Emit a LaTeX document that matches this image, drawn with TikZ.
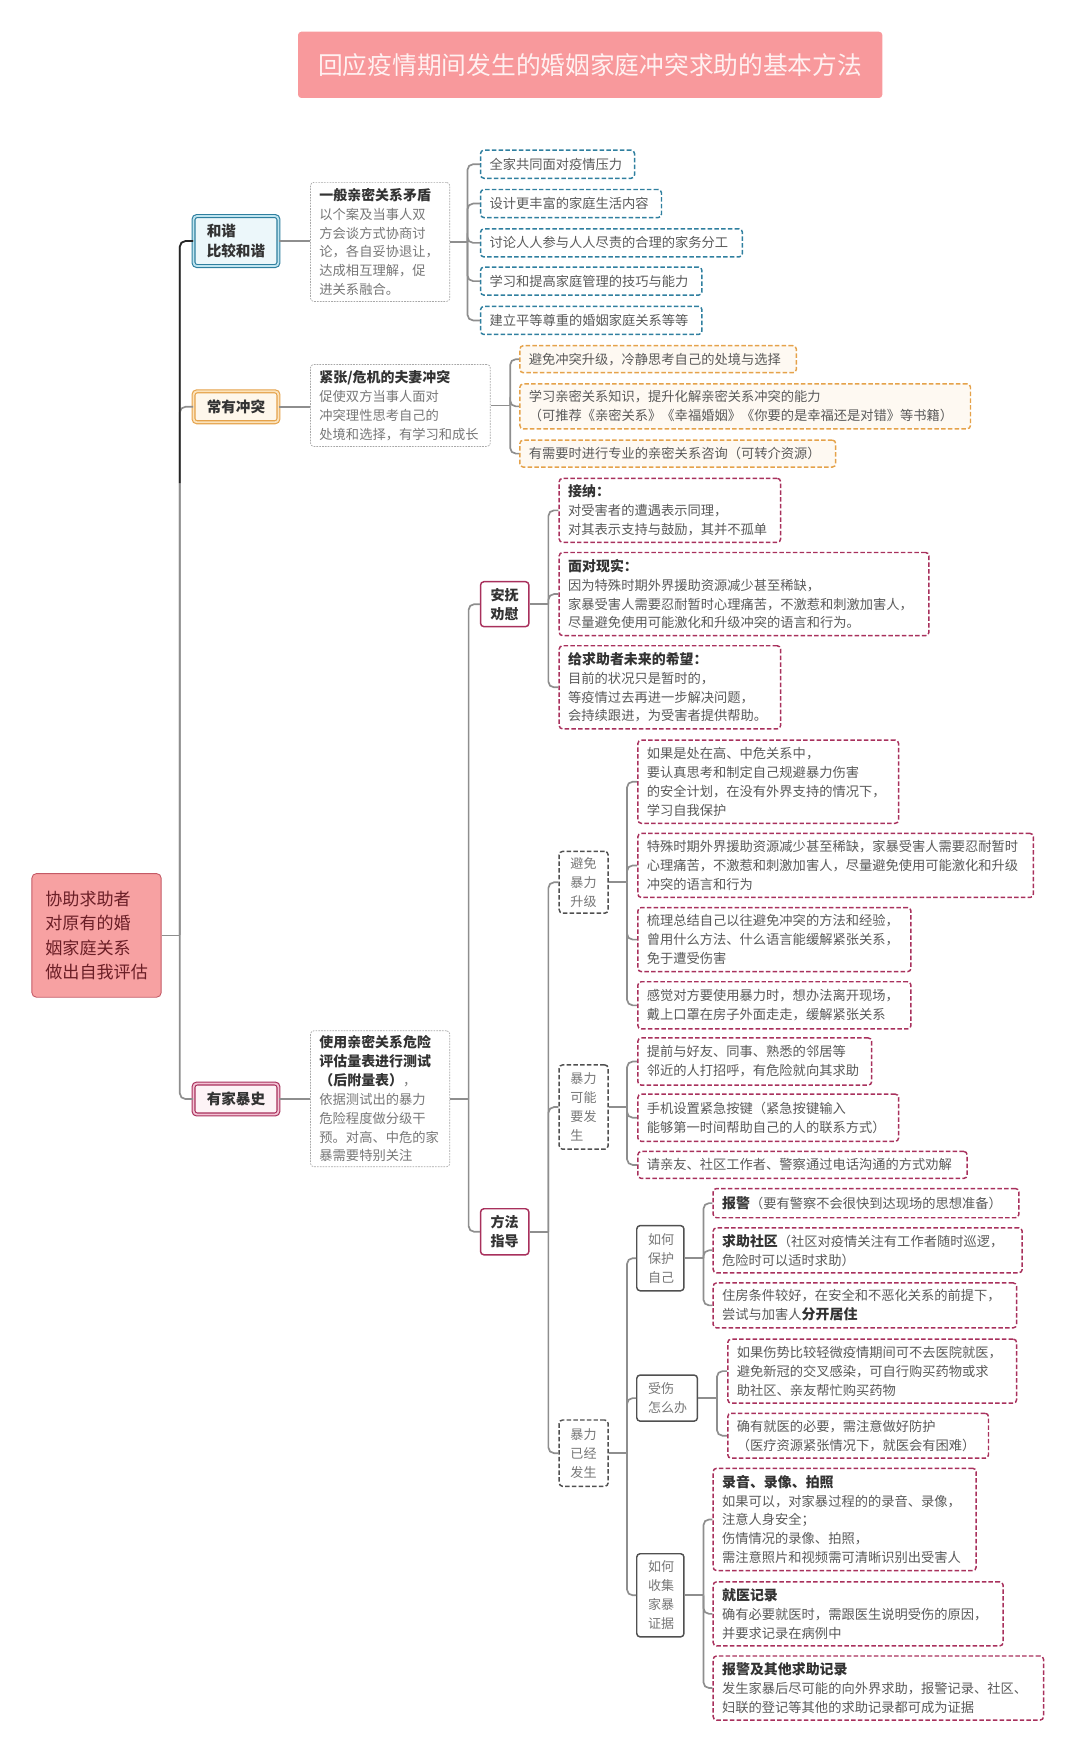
\documentclass[tikz,border=0pt]{standalone}
\usepackage{fontspec}
\setmainfont{Noto Sans CJK SC}

\definecolor{linegray}{HTML}{8E8E8E}
\definecolor{titlepink}{HTML}{F8999C}
\definecolor{titleink}{HTML}{FFF1F1}
\definecolor{rootpink}{HTML}{F7A1A2}
\definecolor{rootedge}{HTML}{C45A66}
\definecolor{rootink}{HTML}{6A1E26}
\definecolor{calmteal}{HTML}{2F7F9F}
\definecolor{calmtealbg}{HTML}{BFE5F0}
\definecolor{clashorange}{HTML}{E5A24A}
\definecolor{clashbg}{HTML}{FBE3BC}
\definecolor{abusered}{HTML}{A8305C}
\definecolor{abusebg}{HTML}{F3C3D4}
\definecolor{inkdark}{HTML}{333333}
\definecolor{inkgray}{HTML}{5A5A5A}
\definecolor{inklight}{HTML}{777777}
\definecolor{noteedge}{HTML}{A8A8A8}
\definecolor{tagedge}{HTML}{505050}

\newcommand{\cardhead}[1]{{\fontsize{12.4}{16.8}\selectfont\bfseries\color{inkdark}#1}}

\tikzset{
  link/.style={draw=linegray, line width=1.5pt},
  elbow/.style={link, rounded corners=5pt},
  card/.style={anchor=north west, rounded corners=3pt, inner xsep=8pt, inner ysep=0pt, align=left,
    text=inkgray, font=\fontsize{11.8}{16.8}\selectfont, line width=1.3pt, dash pattern=on 4pt off 2pt, fill=white},
  tealcard/.style={card, draw=calmteal},
  orangecard/.style={card, draw=clashorange, fill=clashbg!20},
  redcard/.style={card, draw=abusered},
  notecard/.style={card, draw=noteedge, line width=0.6pt, dash pattern=on 1.5pt off 1pt, text=inklight},
  tagbox/.style={anchor=north west, rounded corners=3pt, inner xsep=10pt, inner ysep=0pt, align=left,
    text=inklight, font=\fontsize{11.6}{16.9}\selectfont, line width=1.3pt, draw=tagedge, fill=white},
  dashtag/.style={tagbox, dash pattern=on 4pt off 2pt},
  redtag/.style={anchor=north west, rounded corners=3pt, inner sep=0pt, align=center, draw=abusered,
    line width=1.3pt, fill=white, text=inkdark, minimum width=43, font=\bfseries\fontsize{12.5}{17}\selectfont},
  levelbox/.style 2 args={anchor=north west, rounded corners=3pt, draw=#1, double=#2, double distance=1.6pt,
    line width=1pt, inner sep=0pt, minimum width=75.5, text=inkdark, font=\bfseries\fontsize{13}{17.5}\selectfont},
}

\begin{document}
\begin{tikzpicture}[x=1pt,y=-1pt]
\useasboundingbox (0,0) rectangle (961,1568);

% Title
\node[anchor=north west, fill=titlepink, rounded corners=3pt, minimum width=520, minimum height=59,
  text=titleink, font=\fontsize{22}{26}\selectfont] (title) at (265,28) {回应疫情期间发生的婚姻家庭冲突求助的基本方法};

% Root
\node[anchor=north west, fill=rootpink, draw=rootedge, line width=0.8pt, rounded corners=4pt, inner xsep=12pt,
  text width=91, minimum height=110, align=left, text=rootink, font=\fontsize{15.2}{21.7}\selectfont]
  (root) at (28,777) {协助求助者\\对原有的婚\\姻家庭关系\\做出自我评估};

% Level one
\node[levelbox={calmteal}{calmtealbg}, fill=calmtealbg!30, minimum height=44.5, align=left] (calm) at (171.75,191.75) {和谐\\比较和谐};
\node[levelbox={clashorange}{clashbg}, fill=clashbg!30, minimum height=27.5] (clash) at (171.75,347.75) {常有冲突};
\node[levelbox={abusered}{abusebg}, fill=abusebg!20, minimum height=27.5] (abuse) at (171.75,963.75) {有家暴史};

% Level two
\node[notecard, text width=108, minimum height=106] (calmnote) at (276,162)
  {\cardhead{一般亲密关系矛盾}\\以个案及当事人双\\方会谈方式协商讨\\论，各自妥协退让，\\达成相互理解，促\\进关系融合。};
\node[notecard, text width=144, minimum height=73] (clashnote) at (276,324)
  {\cardhead{紧张/危机的夫妻冲突}\\促使双方当事人面对\\冲突理性思考自己的\\处境和选择，有学习和成长};
\node[notecard, text width=108, minimum height=121] (abusenote) at (276,917)
  {\cardhead{使用亲密关系危险}\\\cardhead{评估量表进行测试}\\\cardhead{（后附量表）}，\\依据测试出的暴力\\危险程度做分级干\\预。对高、中危的家\\暴需要特别关注};

% Harmony tips
\node[tealcard, text width=121, minimum height=25] (calm1) at (427,133) {全家共同面对疫情压力};
\node[tealcard, text width=145, minimum height=25] (calm2) at (427,168) {设计更丰富的家庭生活内容};
\node[tealcard, text width=217, minimum height=25] (calm3) at (427,203) {讨论人人参与人人尽责的合理的家务分工};
\node[tealcard, text width=181, minimum height=25] (calm4) at (427,237) {学习和提高家庭管理的技巧与能力};
\node[tealcard, text width=181, minimum height=25] (calm5) at (427,272) {建立平等尊重的婚姻家庭关系等等};

% Conflict tips
\node[orangecard, text width=230, minimum height=24] (clash1) at (462,307) {避免冲突升级，冷静思考自己的处境与选择};
\node[orangecard, text width=385, minimum height=40] (clash2) at (462,341)
  {学习亲密关系知识，提升化解亲密关系冲突的能力\\（可推荐《亲密关系》《幸福婚姻》《你要的是幸福还是对错》等书籍）};
\node[orangecard, text width=265, minimum height=24] (clash3) at (462,391) {有需要时进行专业的亲密关系咨询（可转介资源）};

% Violence: two ways
\node[redtag, minimum height=40] (comfort) at (427,517) {安抚\\劝慰};
\node[redtag, minimum height=41] (guide) at (427,1075) {方法\\指导};

\node[redcard, text width=181, minimum height=57] (comfort1) at (497,425)
  {\cardhead{接纳：}\\对受害者的遭遇表示同理，\\对其表示支持与鼓励，其并不孤单};
\node[redcard, text width=313, minimum height=74] (comfort2) at (497,491)
  {\cardhead{面对现实：}\\因为特殊时期外界援助资源减少甚至稀缺，\\家暴受害人需要忍耐暂时心理痛苦，不激惹和刺激加害人，\\尽量避免使用可能激化和升级冲突的语言和行为。};
\node[redcard, text width=181, minimum height=74] (comfort3) at (497,574)
  {\cardhead{给求助者未来的希望：}\\目前的状况只是暂时的，\\等疫情过去再进一步解决问题，\\会持续跟进，为受害者提供帮助。};

% Guidance stages
\node[dashtag, text width=23.5, minimum height=55] (avoid) at (497,757) {避免\\暴力\\升级};
\node[dashtag, text width=23.5, minimum height=75] (threat) at (497,947) {暴力\\可能\\要发\\生};
\node[dashtag, text width=23.5, minimum height=59] (happened) at (497,1263) {暴力\\已经\\发生};

\node[redcard, text width=216, minimum height=74] (avoid1) at (567,658)
  {如果是处在高、中危关系中，\\要认真思考和制定自己规避暴力伤害\\的安全计划，在没有外界支持的情况下，\\学习自我保护};
\node[redcard, text width=336, minimum height=57] (avoid2) at (567,741)
  {特殊时期外界援助资源减少甚至稀缺，家暴受害人需要忍耐暂时\\心理痛苦，不激惹和刺激加害人，尽量避免使用可能激化和升级\\冲突的语言和行为};
\node[redcard, text width=227, minimum height=57] (avoid3) at (567,807)
  {梳理总结自己以往避免冲突的方法和经验，\\曾用什么方法、什么语言能缓解紧张关系，\\免于遭受伤害};
\node[redcard, text width=227, minimum height=42] (avoid4) at (567,873)
  {感觉对方要使用暴力时，想办法离开现场，\\戴上口罩在房子外面走走，缓解紧张关系};

\node[redcard, text width=192, minimum height=42] (threat1) at (567,923)
  {提前与好友、同事、熟悉的邻居等\\邻近的人打招呼，有危险就向其求助};
\node[redcard, text width=216, minimum height=42] (threat2) at (567,973)
  {手机设置紧急按键（紧急按键输入\\能够第一时间帮助自己的人的联系方式）};
\node[redcard, text width=277, minimum height=24] (threat3) at (567,1024)
  {请亲友、社区工作者、警察通过电话沟通的方式劝解};

\node[tagbox, text width=22, minimum height=58] (protect) at (566,1090) {如何\\保护\\自己};
\node[tagbox, text width=34, minimum height=41] (hurt) at (566,1223) {受伤\\怎么办};
\node[tagbox, text width=22, minimum height=74] (proof) at (566,1382) {如何\\收集\\家暴\\证据};

\node[redcard, text width=256, minimum height=26] (protect1) at (634,1057)
  {\cardhead{报警}（要有警察不会很快到达现场的思想准备）};
\node[redcard, text width=259, minimum height=40] (protect2) at (634,1092)
  {\cardhead{求助社区}（社区对疫情关注有工作者随时巡逻，\\危险时可以适时求助）};
\node[redcard, text width=254, minimum height=40] (protect3) at (634,1141)
  {住房条件较好，在安全和不恶化关系的前提下，\\尝试与加害人\cardhead{分开居住}};

\node[redcard, text width=241, minimum height=57] (hurt1) at (647,1191)
  {如果伤势比较轻微疫情期间可不去医院就医，\\避免新冠的交叉感染，可自行购买药物或求\\助社区、亲友帮忙购买药物};
\node[redcard, text width=216, minimum height=40] (hurt2) at (647,1257)
  {确有就医的必要，需注意做好防护\\（医疗资源紧张情况下，就医会有困难）};

\node[redcard, text width=218, minimum height=91] (proof1) at (634,1306)
  {\cardhead{录音、录像、拍照}\\如果可以，对家暴过程的的录音、录像，\\注意人身安全；\\伤情情况的录像、拍照，\\需注意照片和视频需可清晰识别出受害人};
\node[redcard, text width=242, minimum height=57] (proof2) at (634,1407)
  {\cardhead{就医记录}\\确有必要就医时，需跟医生说明受伤的原因，\\并要求记录在病例中};
\node[redcard, text width=278, minimum height=57] (proof3) at (634,1473)
  {\cardhead{报警及其他求助记录}\\发生家暴后尽可能的向外界求助，报警记录、社区、\\妇联的登记等其他的求助记录都可成为证据};

% Fork positions
\coordinate (trunk) at (160,0);
\coordinate (calmfork) at (416,0);
\coordinate (clashfork) at (454,0);
\coordinate (abusefork) at (417,0);
\coordinate (comfortfork) at (488,0);
\coordinate (guidefork) at (488,0);
\coordinate (stagefork) at (558,0);
\coordinate (protectfork) at (626,0);
\coordinate (hurtfork) at (638,0);
\coordinate (prooffork) at (626,0);
\coordinate (calmdark) at (160,430);

% Connectors
\draw[link] (root.east) -- (root.east -| trunk);
\foreach \n in {calm,clash,abuse} \draw[elbow] (root.east -| trunk) |- (\n.west);
\draw[elbow, draw=black!85] (calmdark) |- (calm.west);

\draw[link] (calm.east) -- (calm.east -| calmnote.west);
\draw[link] (clash.east) -- (clash.east -| clashnote.west);
\draw[link] (abuse.east) -- (abuse.east -| abusenote.west);

\draw[link] (calmnote.east) -- (calmnote.east -| calmfork);
\foreach \n in {calm1,calm2,calm3,calm4,calm5} \draw[elbow] (calmnote.east -| calmfork) |- (\n.west);

\draw[link] (clashnote.east) -- (clashnote.east -| clashfork);
\foreach \n in {clash1,clash2,clash3} \draw[elbow] (clashnote.east -| clashfork) |- (\n.west);

\draw[link] (abusenote.east) -- (abusenote.east -| abusefork);
\foreach \n in {comfort,guide} \draw[elbow] (abusenote.east -| abusefork) |- (\n.west);

\draw[link] (comfort.east) -- (comfort.east -| comfortfork);
\foreach \n in {comfort1,comfort2,comfort3} \draw[elbow] (comfort.east -| comfortfork) |- (\n.west);

\draw[link] (guide.east) -- (guide.east -| guidefork);
\foreach \n in {avoid,threat,happened} \draw[elbow] (guide.east -| guidefork) |- (\n.west);

\draw[link] (avoid.east) -- (avoid.east -| stagefork);
\foreach \n in {avoid1,avoid2,avoid3,avoid4} \draw[elbow] (avoid.east -| stagefork) |- (\n.west);

\draw[link] (threat.east) -- (threat.east -| stagefork);
\foreach \n in {threat1,threat2,threat3} \draw[elbow] (threat.east -| stagefork) |- (\n.west);

\draw[link] (happened.east) -- (happened.east -| stagefork);
\foreach \n in {protect,hurt,proof} \draw[elbow] (happened.east -| stagefork) |- (\n.west);

\draw[link] (protect.east) -- (protect.east -| protectfork);
\foreach \n in {protect1,protect2,protect3} \draw[elbow] (protect.east -| protectfork) |- (\n.west);

\draw[link] (hurt.east) -- (hurt.east -| hurtfork);
\foreach \n in {hurt1,hurt2} \draw[elbow] (hurt.east -| hurtfork) |- (\n.west);

\draw[link] (proof.east) -- (proof.east -| prooffork);
\foreach \n in {proof1,proof2,proof3} \draw[elbow] (proof.east -| prooffork) |- (\n.west);
\end{tikzpicture}
\end{document}
